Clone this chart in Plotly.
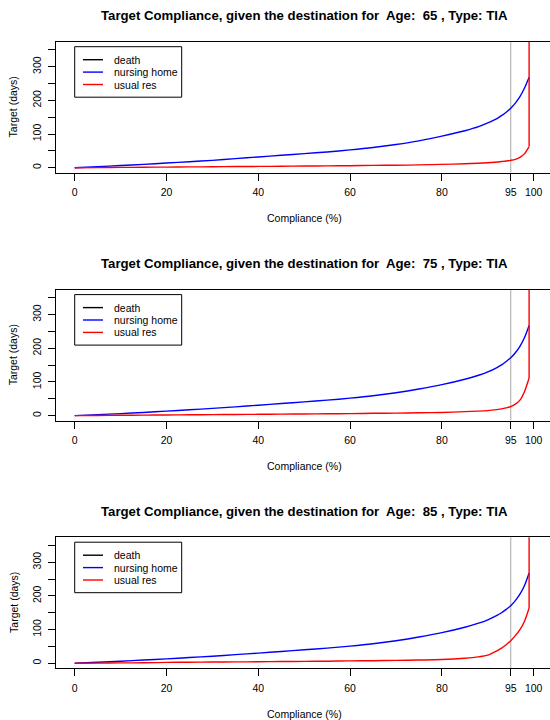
import plotly.graph_objects as go

# ---------------- data ----------------
ages = [65, 75, 85]
stroke_type = "TIA"

compliance = [0, 5, 10, 15, 20, 25, 30, 35, 40, 45, 50, 55, 60, 65, 70, 75,
              80, 85, 88, 90, 92, 93, 94, 95, 96, 97, 98, 99]

nursing_home_65 = [0, 3, 6.5, 10, 14, 18, 22, 27, 32, 37, 42, 47, 53, 60, 69, 80,
                   94, 110, 122, 133, 146, 155, 165, 177, 192, 211, 237, 269]
nursing_home_75 = [0, 3, 6, 9.5, 13.5, 17.5, 21.5, 26, 31, 36, 41, 46, 52, 59, 68, 79,
                   92, 108, 120, 130, 143, 151, 161, 172, 187, 206, 232, 268]
nursing_home_85 = [0, 3, 6, 9.5, 13, 17, 21, 25.5, 30, 35, 40, 45, 51, 58, 67, 78,
                   91, 107, 119, 129, 142, 150, 160, 171, 186, 205, 231, 268]

usual_res_65 = [0, 0.5, 1, 1.5, 2, 2.5, 3, 3.5, 4, 4.5, 5, 5.5, 6, 7, 7.5, 8.5,
                10, 12, 13.5, 15, 17, 18.5, 20, 22, 25, 31, 42, 63]
usual_res_75 = [0, 0.5, 1, 1.5, 2, 2.5, 3, 3.5, 4, 4.5, 5, 5.5, 6, 7, 7.5, 8.5,
                9.5, 12, 13.5, 15, 18, 20, 23, 27, 34, 46, 72, 112]
usual_res_85 = [0, 0.5, 1, 1.5, 2.5, 3, 3.5, 4, 4.5, 5, 5.5, 6, 7, 7.5, 8.5, 9.5,
                11, 15, 19, 24, 37, 45, 55, 67, 82, 100, 125, 164]
# last usual-res point leaves the top of the plot at 99 % compliance
usual_res_tail_x = 99
usual_res_tail = [500, 500, 500]

death_x = []
death_y = []

nursing_home = [nursing_home_65, nursing_home_75, nursing_home_85]
usual_res = [usual_res_65, usual_res_75, usual_res_85]

x_ticks = [0, 20, 40, 60, 80, 95, 100]
y_ticks = [0, 50, 100, 150, 200, 250, 300, 350]
y_tick_text = ["0", "", "100", "", "200", "", "300", ""]
ref_line_x = 95

series_names = ["death", "nursing home", "usual res"]
series_colors = ["#000000", "#0000ff", "#ff0000"]

# ---------------- layout geometry (pixels) ----------------
W, H = 550, 720
FONT = "Liberation Sans, Arial, Helvetica, sans-serif"
left_px = 56.3
panel_tops = [41.7, 289.6, 537.2]
panel_h = 130.9
x_range = [-4, 103.55]
y_range = [-14.4, 374.4]
LW = 1.4


def px_x(p):
    return p / W


def px_y(p):
    return 1 - p / H


fig = go.Figure()
annotations = []
shapes = []

for i, age in enumerate(ages):
    n = "" if i == 0 else str(i + 1)
    xa, ya = "x" + n, "y" + n
    top = panel_tops[i]
    bot = top + panel_h

    fig.add_trace(go.Scatter(x=death_x, y=death_y, mode="lines", name=series_names[0],
                             line=dict(color=series_colors[0], width=LW),
                             xaxis=xa, yaxis=ya, showlegend=False))
    fig.add_trace(go.Scatter(x=compliance, y=nursing_home[i], mode="lines",
                             name=series_names[1],
                             line=dict(color=series_colors[1], width=LW,
                                       shape="spline", smoothing=0.8),
                             xaxis=xa, yaxis=ya, showlegend=False))
    fig.add_trace(go.Scatter(x=compliance, y=usual_res[i], mode="lines",
                             name=series_names[2], legendgroup="usual",
                             line=dict(color=series_colors[2], width=LW,
                                       shape="spline", smoothing=0.8),
                             xaxis=xa, yaxis=ya, showlegend=False))
    fig.add_trace(go.Scatter(x=[compliance[-1], usual_res_tail_x],
                             y=[usual_res[i][-1], usual_res_tail[i]], mode="lines",
                             name=series_names[2], legendgroup="usual",
                             line=dict(color=series_colors[2], width=LW),
                             xaxis=xa, yaxis=ya, showlegend=False))

    fig.update_layout(**{
        "xaxis" + n: dict(domain=[px_x(left_px), 1], range=x_range, anchor=ya,
                          showline=True, linecolor="#000000", linewidth=1, mirror=True,
                          ticks="outside", ticklen=7, tickwidth=1, tickcolor="#000000",
                          tickvals=x_ticks, ticktext=[str(v) for v in x_ticks],
                          tickfont=dict(family=FONT, size=10.5, color="#000000"),
                          ticklabelstandoff=3,
                          showgrid=False, zeroline=False, fixedrange=True),
        "yaxis" + n: dict(domain=[px_y(bot), px_y(top)], range=y_range, anchor=xa,
                          showline=True, linecolor="#000000", linewidth=1, mirror=False,
                          ticks="outside", ticklen=7, tickwidth=1, tickcolor="#000000",
                          tickvals=y_ticks, ticktext=y_tick_text, tickangle=-90,
                          tickfont=dict(family=FONT, size=10.5, color="#000000"),
                          ticklabelstandoff=3,
                          showgrid=False, zeroline=False, fixedrange=True),
    })

    # reference line at 95 % compliance
    shapes.append(dict(type="line", xref=xa, yref=ya + " domain", x0=ref_line_x,
                       x1=ref_line_x, y0=0, y1=1,
                       line=dict(color="#a9a9a9", width=1), layer="below"))

    centre_x = (left_px + 552.1) / 2
    annotations.append(dict(
        text="Target Compliance, given the destination for  Age:  %d , Type: %s" % (age, stroke_type),
        xref="paper", yref="paper", x=px_x(centre_x), y=px_y(top - 26),
        xanchor="center", yanchor="middle", showarrow=False,
        font=dict(family=FONT, size=13.2, color="#000000", weight="bold")))
    annotations.append(dict(
        text="Compliance (%)", xref="paper", yref="paper",
        x=px_x(centre_x), y=px_y(bot + 45.6), xanchor="center", yanchor="middle",
        showarrow=False, font=dict(family=FONT, size=10.5, color="#000000")))
    annotations.append(dict(
        text="Target (days)", xref="paper", yref="paper", textangle=-90,
        x=px_x(13.3), y=px_y((top + bot) / 2), xanchor="center", yanchor="middle",
        showarrow=False, font=dict(family=FONT, size=10.5, color="#000000")))

    # legend box
    shapes.append(dict(type="rect", xref="paper", yref="paper",
                       x0=px_x(74.7), x1=px_x(181.7), y0=px_y(top + 55.5), y1=px_y(top + 5),
                       line=dict(color="#000000", width=1), fillcolor="rgba(0,0,0,0)"))
    for k, (nm, col) in enumerate(zip(series_names, series_colors)):
        row_y = top + 18 + k * 12.4
        shapes.append(dict(type="line", xref="paper", yref="paper",
                           x0=px_x(83), x1=px_x(103), y0=px_y(row_y), y1=px_y(row_y),
                           line=dict(color=col, width=LW)))
        annotations.append(dict(
            text=nm, xref="paper", yref="paper", x=px_x(112), y=px_y(row_y),
            xanchor="left", yanchor="middle", showarrow=False,
            font=dict(family=FONT, size=10.5, color="#000000")))

fig.update_layout(width=W, height=H, margin=dict(l=0, r=0, t=0, b=0),
                  paper_bgcolor="#ffffff", plot_bgcolor="rgba(0,0,0,0)",
                  showlegend=False, annotations=annotations, shapes=shapes,
                  font=dict(family=FONT, color="#000000"))

fig.write_html("out.html", config={"displayModeBar": False},
               post_script="document.body.style.margin='0';document.body.style.overflow='hidden';")
